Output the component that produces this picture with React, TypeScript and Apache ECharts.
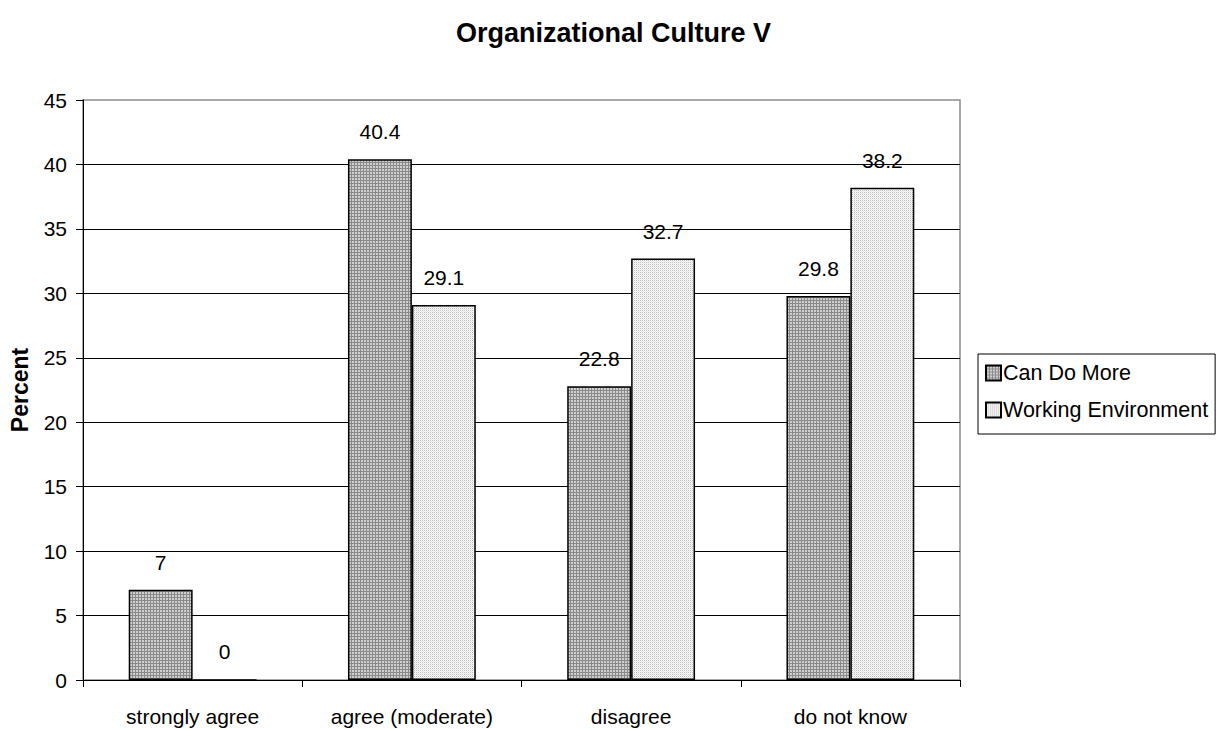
import React, { useEffect, useRef } from "react";
import * as echarts from "echarts";

const categories = ["strongly agree", "agree (moderate)", "disagree", "do not know"];
const canDoMore = [7, 40.4, 22.8, 29.8];
const workingEnvironment = [0, 29.1, 32.7, 38.2];
const seriesNames = ["Can Do More", "Working Environment"];
const chartTitle = "Organizational Culture V";
const yAxisTitle = "Percent";

const FONT = "'Liberation Sans', Arial, Helvetica, sans-serif";

// Build a small repeating tile as a data URL for bar fills
function makeTile(size: number, paint: (x: number, y: number) => string): string {
  const c = document.createElement("canvas");
  c.width = size;
  c.height = size;
  const ctx = c.getContext("2d")!;
  for (let y = 0; y < size; y++) {
    for (let x = 0; x < size; x++) {
      ctx.fillStyle = paint(x, y);
      ctx.fillRect(x, y, 1, 1);
    }
  }
  return c.toDataURL();
}

export default function App() {
  const ref = useRef<HTMLDivElement>(null);

  useEffect(() => {
    if (!ref.current) return;
    const chart = echarts.init(ref.current, undefined, { renderer: "svg" });

    // Fine grid texture (dark lines on light grey)
    const gridTile = makeTile(3, (x, y) => (x === 0 || y === 0 ? "#8a8a8a" : "#cfcfcf"));
    // Light dotted texture
    const dotTile = makeTile(2, (x, y) => (x === 0 && y === 0 ? "#bdbdbd" : (x === 1 && y === 1 ? "#e6e6e6" : "#fafafa")));

    const gridFill: any = { image: gridTile, repeat: "repeat", imageWidth: 3, imageHeight: 3 };
    const dotFill: any = { image: dotTile, repeat: "repeat", imageWidth: 2, imageHeight: 2 };

    const labelStyle = {
      show: true,
      position: "top" as const,
      distance: 17,
      color: "#000",
      fontFamily: FONT,
      fontSize: 21,
    };

    chart.setOption({
      animation: false,
      backgroundColor: "#fff",
      title: {
        text: chartTitle,
        left: "center",
        top: 19,
        padding: 0,
        textStyle: { fontFamily: FONT, fontSize: 27, fontWeight: "bold", color: "#000" },
      },
      legend: {
        orient: "vertical",
        left: 978,
        top: 354,
        padding: [8, 7, 13, 7],
        itemGap: 15,
        itemWidth: 15,
        itemHeight: 15,
        icon: "rect",
        borderColor: "#000",
        borderWidth: 1,
        backgroundColor: "#fff",
        textStyle: { fontFamily: FONT, fontSize: 21.5, color: "#000", padding: [0, 0, 0, -3] },
        data: seriesNames,
      },
      grid: {
        left: 82,
        right: 267,
        top: 100,
        bottom: 49,
        show: true,
        borderColor: "#8c8c8c",
        borderWidth: 1.5,
        backgroundColor: "transparent",
      },
      xAxis: {
        type: "category",
        data: categories,
        axisLine: { lineStyle: { color: "#000", width: 1 } },
        axisTick: { show: true, length: 7, lineStyle: { color: "#000" } },
        axisLabel: { color: "#000", fontFamily: FONT, fontSize: 21, margin: 26 },
      },
      yAxis: {
        type: "value",
        min: 0,
        max: 45,
        interval: 5,
        name: yAxisTitle,
        nameLocation: "middle",
        nameGap: 52,
        nameTextStyle: { fontFamily: FONT, fontSize: 23, fontWeight: "bold", color: "#000" },
        axisLine: { show: true, lineStyle: { color: "#000", width: 1 } },
        axisTick: { show: true, length: 7, lineStyle: { color: "#000" } },
        axisLabel: { color: "#000", fontFamily: FONT, fontSize: 21, margin: 16 },
        splitLine: {
          show: true,
          showMinLine: false,
          showMaxLine: false,
          lineStyle: { color: "#000", width: 1 },
        },
      },
      series: [
        {
          name: seriesNames[0],
          type: "bar",
          data: canDoMore,
          barGap: "0%",
          barCategoryGap: "41.7%",
          itemStyle: { color: gridFill, borderColor: "#000", borderWidth: 1.5 },
          label: labelStyle,
        },
        {
          name: seriesNames[1],
          type: "bar",
          data: workingEnvironment,
          barGap: "0%",
          barCategoryGap: "41.7%",
          itemStyle: { color: dotFill, borderColor: "#000", borderWidth: 1.5 },
          label: labelStyle,
        },
      ],
    });

    return () => chart.dispose();
  }, []);

  return (
    <div
      ref={ref}
      style={{ position: "absolute", left: 0, top: 0, width: 1227, height: 729, background: "#fff" }}
    />
  );
}
